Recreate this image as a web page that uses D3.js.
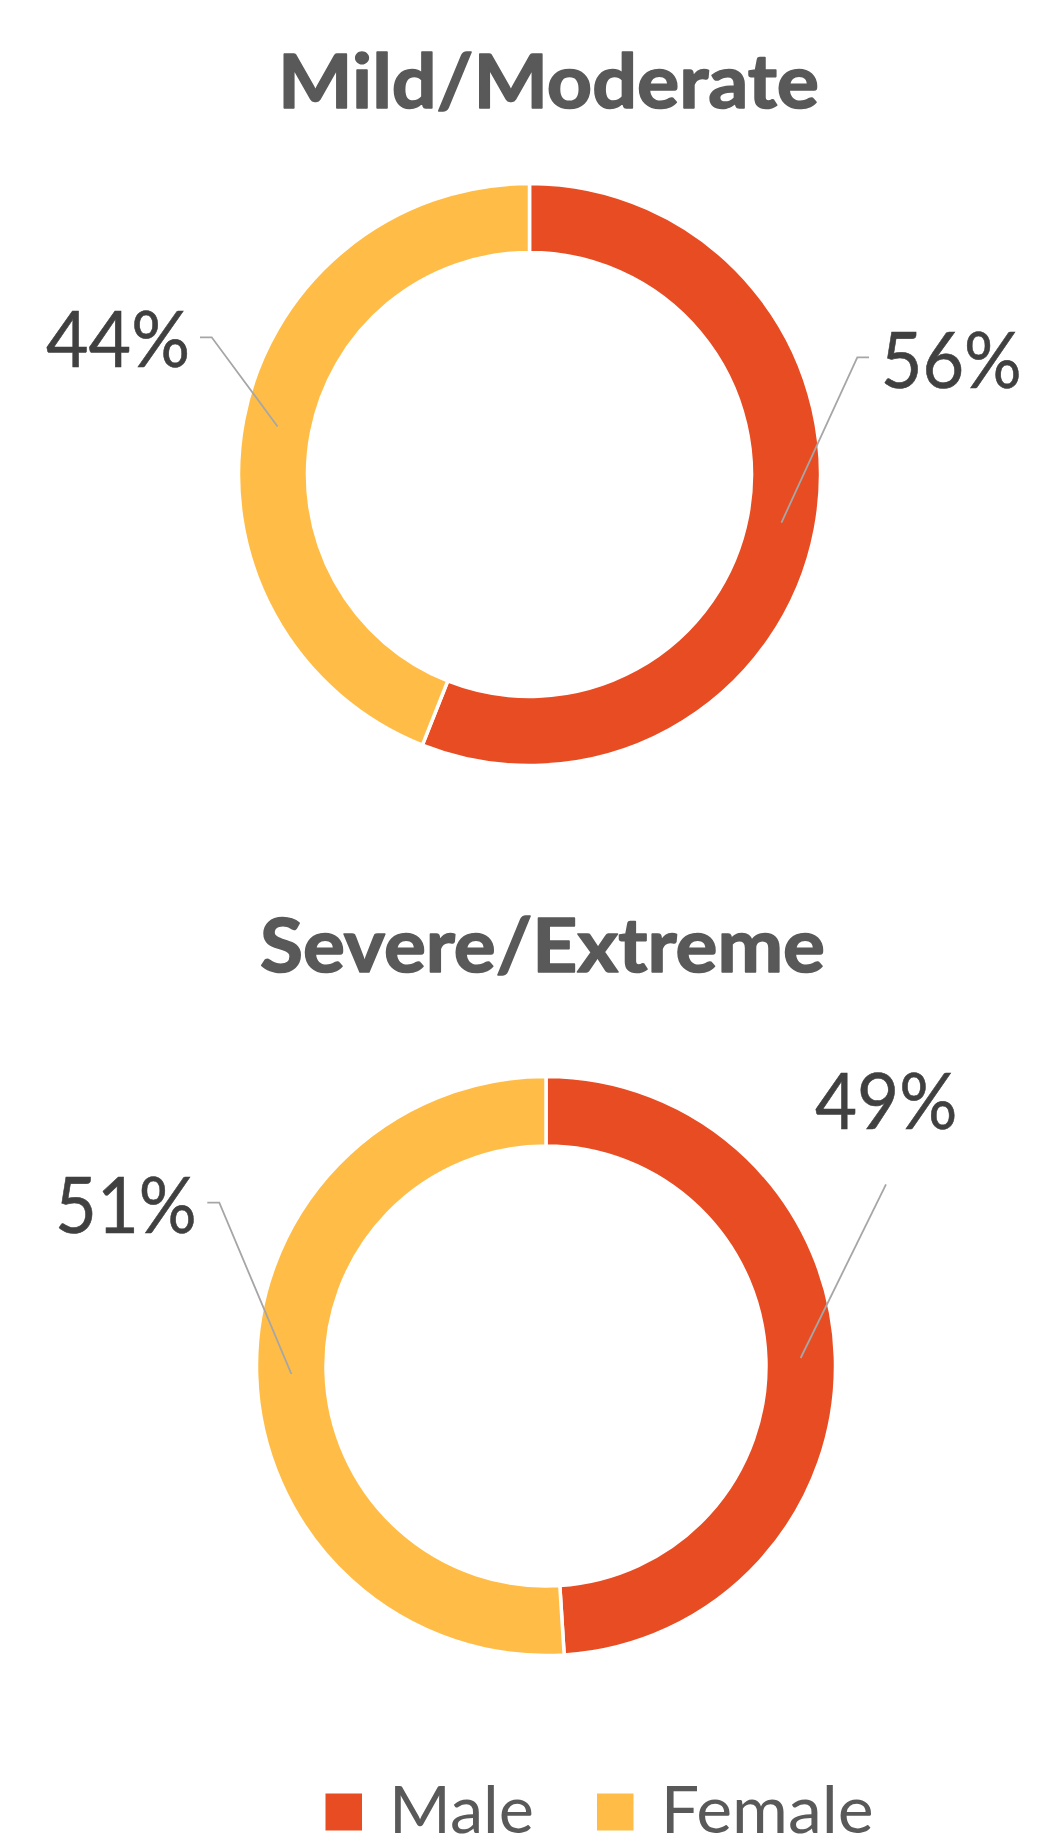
<!DOCTYPE html>
<html>
<head>
<meta charset="utf-8">
<script src="https://cdn.jsdelivr.net/npm/d3@7"></script>
<style>
  html, body { margin: 0; padding: 0; background: #ffffff; }
  svg { display: block; }
</style>
</head>
<body>
<div id="chart"></div>
<script>
// Share of cases by sex, per severity group
const categories = ["Male", "Female"];
const panelTitles = ["Mild/Moderate", "Severe/Extreme"];
const mildModerate = [56, 44];
const severeExtreme = [49, 51];
const seriesColors = ["#E84C22", "#FFBD47"];

const panelValues = [mildModerate, severeExtreme];

const W = 1043, H = 1838;
const FONT = "Lato, 'Open Sans', sans-serif";

// Placement of each donut, its title and its data labels
const panelLayout = [
  {
    cx: 529.5, cy: 474.5, inner: 222, outer: 291,
    titleX: 548.5, titleY: 108, titleW: 541,
    labels: [
      { left: 880.7, base: 388.3, w: 141, anchorPts: [[869, 357.3], [857.3, 357.3]] },
      { left: 46,    base: 367,   w: 144, anchorPts: [[200, 337.3], [211.7, 337.3]] }
    ]
  },
  {
    cx: 546, cy: 1366, inner: 220, outer: 289.5,
    titleX: 542.5, titleY: 971.5, titleW: 565,
    labels: [
      { left: 815, base: 1129,   w: 142.3, anchorPts: [[886, 1184.3]] },
      { left: 55,  base: 1232.7, w: 141.7, anchorPts: [[207.3, 1202.7], [219.3, 1202.7]] }
    ]
  }
];

const svg = d3.select("#chart").append("svg")
  .attr("width", W).attr("height", H)
  .attr("viewBox", `0 0 ${W} ${H}`);

svg.append("rect").attr("width", W).attr("height", H).attr("fill", "#ffffff");

const color = d3.scaleOrdinal().domain(categories).range(seriesColors);

const pie = d3.pie().sort(null).startAngle(0).endAngle(2 * Math.PI)
  .value(d => d.value);

panelValues.forEach((vals, i) => {
  const lay = panelLayout[i];
  const g = svg.append("g");

  // Title (a thin outline of the fill colour gives it a heavier weight)
  g.append("text")
    .attr("x", lay.titleX - lay.titleW / 2)
    .attr("y", lay.titleY)
    .attr("textLength", lay.titleW)
    .attr("lengthAdjust", "spacingAndGlyphs")
    .attr("font-family", FONT)
    .attr("font-weight", 700)
    .attr("font-size", 74)
    .attr("fill", "#595959")
    .attr("stroke", "#595959")
    .attr("stroke-width", 1.6)
    .attr("stroke-linejoin", "round")
    .text(panelTitles[i]);

  const data = categories.map((c, k) => ({ category: c, value: vals[k] }));
  const arcs = pie(data);
  const arc = d3.arc().innerRadius(lay.inner).outerRadius(lay.outer);
  const labelArc = d3.arc()
    .innerRadius((lay.inner + lay.outer) / 2)
    .outerRadius((lay.inner + lay.outer) / 2);

  const donut = g.append("g").attr("transform", `translate(${lay.cx},${lay.cy})`);
  donut.selectAll("path.slice")
    .data(arcs)
    .join("path")
    .attr("class", "slice")
    .attr("d", arc)
    .attr("fill", d => color(d.data.category))
    .attr("stroke", "#ffffff")
    .attr("stroke-width", 3.5)
    .attr("stroke-linejoin", "miter");

  // Leader lines and value labels
  arcs.forEach((a, k) => {
    const L = lay.labels[k];
    const c = labelArc.centroid(a);
    const pts = L.anchorPts.concat([[lay.cx + c[0], lay.cy + c[1]]]);
    g.append("path")
      .attr("d", d3.line()(pts))
      .attr("fill", "none")
      .attr("stroke", "#A6A6A6")
      .attr("stroke-width", 1.8);

    g.append("text")
      .attr("x", L.left)
      .attr("y", L.base)
      .attr("textLength", L.w)
      .attr("lengthAdjust", "spacingAndGlyphs")
      .attr("font-family", FONT)
      .attr("font-size", 77)
      .attr("fill", "#404040")
      .attr("stroke", "#404040")
      .attr("stroke-width", 0.6)
      .text(a.data.value + "%");
  });
});

// Legend
const legendItems = [
  { sq: 325.5, tx: 389,   w: 145 },
  { sq: 597,   tx: 660.7, w: 213 }
];
const legend = svg.append("g");
categories.forEach((c, k) => {
  const it = legendItems[k];
  legend.append("rect")
    .attr("x", it.sq).attr("y", 1793.5)
    .attr("width", 36.5).attr("height", 37)
    .attr("fill", color(c));
  legend.append("text")
    .attr("x", it.tx).attr("y", 1832.7)
    .attr("textLength", it.w)
    .attr("lengthAdjust", "spacingAndGlyphs")
    .attr("font-family", FONT)
    .attr("font-size", 65)
    .attr("fill", "#595959")
    .text(c);
});
</script>
</body>
</html>
